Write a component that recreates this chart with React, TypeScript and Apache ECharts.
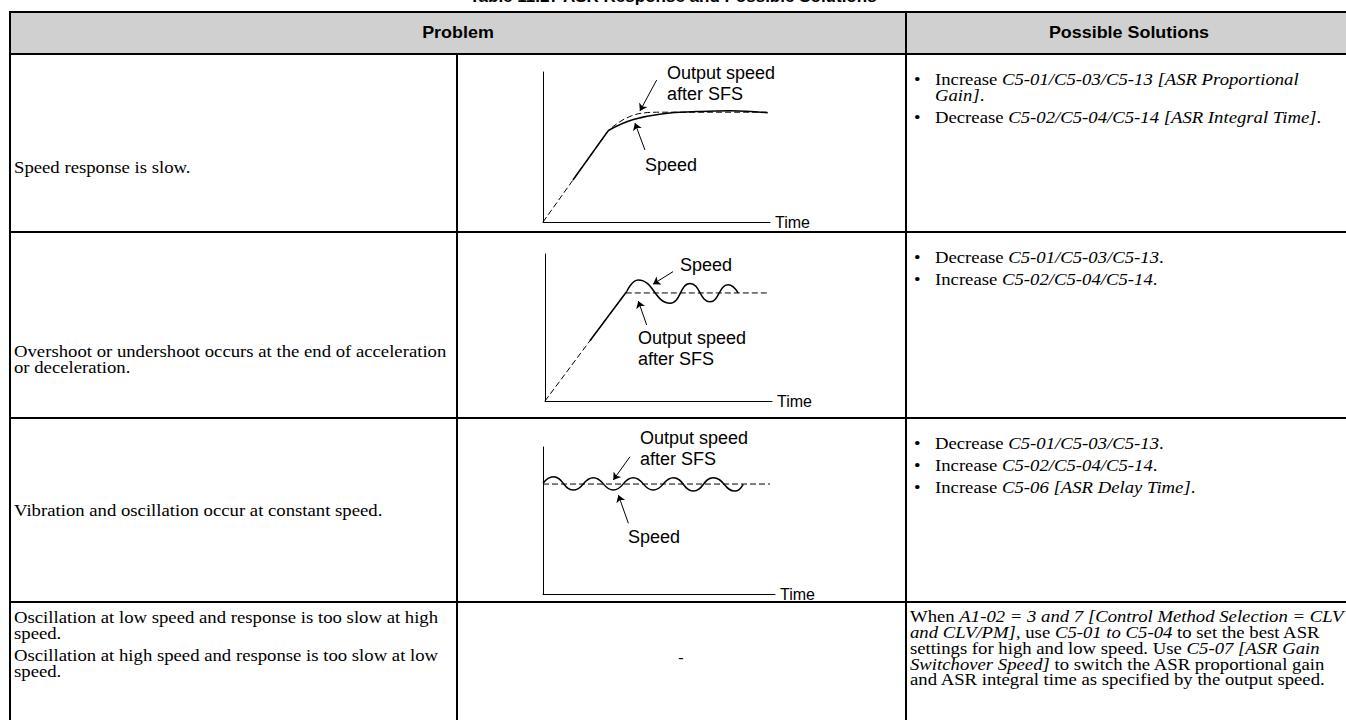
import React, { useEffect, useRef } from 'react';
import * as echarts from 'echarts';

// ---------- texts ----------
const titleText = 'Table 11.27 ASR Response and Possible Solutions';
const headerLabels = ['Problem', 'Possible Solutions'];
const problemTexts = [
  ['Speed response is slow.'],
  ['Overshoot or undershoot occurs at the end of acceleration\nor deceleration.'],
  ['Vibration and oscillation occur at constant speed.'],
  [
    'Oscillation at low speed and response is too slow at high\nspeed.',
    'Oscillation at high speed and response is too slow at low\nspeed.',
  ],
];
const solutionBullets = [
  [
    '{n|Increase }{i|C5-01/C5-03/C5-13 [ASR Proportional}\n{i|Gain]}{n|.}',
    '{n|Decrease }{i|C5-02/C5-04/C5-14 [ASR Integral Time]}{n|.}',
  ],
  ['{n|Decrease }{i|C5-01/C5-03/C5-13}{n|.}', '{n|Increase }{i|C5-02/C5-04/C5-14}{n|.}'],
  [
    '{n|Decrease }{i|C5-01/C5-03/C5-13}{n|.}',
    '{n|Increase }{i|C5-02/C5-04/C5-14}{n|.}',
    '{n|Increase }{i|C5-06 [ASR Delay Time]}{n|.}',
  ],
];
const lastSolution =
  '{n|When }{i|A1-02 = 3 and 7 [Control Method Selection = CLV}\n' +
  '{i|and CLV/PM]}{n|, use }{i|C5-01 to C5-04}{n| to set the best ASR}\n' +
  '{n|settings for high and low speed. Use }{i|C5-07 [ASR Gain}\n' +
  '{i|Switchover Speed]}{n| to switch the ASR proportional gain}\n' +
  '{n|and ASR integral time as specified by the output speed.}';
const noDiagram = '-';
const timeLabel = 'Time';
const outputLabel = 'Output speed\nafter SFS';
const speedLabel = 'Speed';

// ---------- diagram data: [time, speed] on a 0..100 scale ----------
// 1: slow response
const slowRamp = [[13.2, 28], [28.8, 61]];
const slowCurve = [[28.8, 61], [39.8, 68.3], [53, 72.2], [67.7, 73.6], [82.4, 74.2], [99, 72.8]];
const slowRef = [[0, 0], [28.8, 61], [31, 63.8], [33.5, 66.5], [36, 68.8], [39, 70.8], [42, 72.2], [46, 73], [50, 73.2], [99, 73.2]];
const slowOutputArrow = [[50.1, 94.7], [42.7, 74]];
const slowSpeedArrow = [[44.9, 48], [40.5, 66]];

// 2: overshoot
const overRamp = [[19.8, 41], [36, 74.5]];
const overCurve = [[36, 74.5], [41.1, 82.3], [55.1, 66.5], [63.9, 80], [72.7, 67.5], [80.7, 79], [85.1, 73.5]];
const overRef = [[0, 0], [35.5, 73.5], [97.9, 73.5]];
const overSpeedArrow = [[56.4, 88], [47.6, 79.5]];
const overOutputArrow = [[44.8, 51.7], [41.1, 68]];

// 3: vibration
const vibCurve = [[0, 75.3], [4.4, 79.8], [13.1, 70.7], [21.7, 79.1], [30.3, 70.7], [38.9, 79.1], [47.5, 70.7], [56.2, 79.1], [64.8, 70], [73.4, 79.1], [82.8, 70], [86.3, 74.6]];
const vibRef = [[0, 74.8], [97.8, 74.8]];
const vibOutputArrow = [[37.5, 93.4], [30.3, 77.6]];
const vibSpeedArrow = [[36.8, 48.1], [32.5, 67.3]];

// ---------- styling ----------
const SANS = '"Liberation Sans", Arial, sans-serif';
const SERIF = '"Liberation Serif", "Times New Roman", serif';
const BLACK = '#000';

function buildOption() {
  const H = 720;
  const L = 10;
  const T = 12;
  const HB = 54;
  const rowLines = [232, 418, 602];
  const cDiv = 457;
  const sDiv = 906;
  const RIGHT = 1360;
  const TXT = 16;
  const LH = 16;
  const SX = 1.17;

  const grids = [
    { left: 543, top: 72, width: 227, height: 150 },
    { left: 545, top: 254, width: 227, height: 147 },
    { left: 543, top: 447, width: 232, height: 147 },
  ];

  const xAxes = grids.map((_, i) => ({
    type: 'value',
    gridIndex: i,
    min: 0,
    max: 100,
    axisLine: { show: true, onZero: false, lineStyle: { color: BLACK, width: 1 } },
    axisTick: { show: false },
    axisLabel: { show: false },
    splitLine: { show: false },
    name: timeLabel,
    nameLocation: 'end',
    nameGap: 5,
    nameTextStyle: { fontFamily: SANS, fontSize: 16, color: BLACK },
  }));
  const yAxes = grids.map((_, i) => ({
    type: 'value',
    gridIndex: i,
    min: 0,
    max: 100,
    axisLine: { show: true, onZero: false, lineStyle: { color: BLACK, width: 1 } },
    axisTick: { show: false },
    axisLabel: { show: false },
    splitLine: { show: false },
  }));

  const arrowLine = (arrows: number[][][]) => ({
    silent: true,
    symbol: ['none', 'arrow'],
    symbolSize: 7,
    label: { show: false },
    lineStyle: { color: BLACK, width: 1, type: 'solid' },
    emphasis: { disabled: true },
    data: arrows.map((a) => [{ coord: a[0] }, { coord: a[1] }]),
  });

  const ln = (i: number, data: number[][], smooth: number | boolean, lineStyle: any, extra: any = {}) => ({
    type: 'line',
    xAxisIndex: i,
    yAxisIndex: i,
    data,
    symbol: 'none',
    smooth,
    lineStyle: { color: BLACK, ...lineStyle },
    silent: true,
    ...extra,
  });
  const dashed = { width: 1, type: [6, 3] };
  const solid = { width: 1.5 };

  const series = [
    ln(0, slowRef, false, dashed),
    ln(0, slowRamp, false, solid),
    ln(0, slowCurve, 0.45, solid, { markLine: arrowLine([slowOutputArrow, slowSpeedArrow]) }),
    ln(1, overRef, false, dashed),
    ln(1, overRamp, false, solid),
    ln(1, overCurve, 0.5, solid, { markLine: arrowLine([overSpeedArrow, overOutputArrow]) }),
    ln(2, vibRef, false, dashed),
    ln(2, vibCurve, 0.5, solid, { markLine: arrowLine([vibOutputArrow, vibSpeedArrow]) }),
  ];

  const g: any[] = [];
  const line = (x1: number, y1: number, x2: number, y2: number, w = 2) =>
    g.push({ type: 'line', shape: { x1, y1, x2, y2 }, style: { stroke: BLACK, lineWidth: w }, z: 10 });
  const rich = {
    n: { fontFamily: SERIF, fontSize: TXT, fill: BLACK, lineHeight: LH },
    i: { fontFamily: SERIF, fontSize: TXT, fontStyle: 'italic', fill: BLACK, lineHeight: LH },
  };
  const text = (x: number, y: number, t: string, extra: any = {}) =>
    g.push({
      type: 'text',
      x,
      y,
      scaleX: SX,
      z: 10,
      style: {
        text: t,
        fontFamily: SERIF,
        fontSize: TXT,
        fill: BLACK,
        lineHeight: LH,
        align: 'left',
        verticalAlign: 'top',
        ...extra,
      },
    });

  // header background
  g.push({ type: 'rect', shape: { x: L, y: T, width: RIGHT - L, height: HB - T }, style: { fill: '#d0d0d0' }, z: 1 });
  // title (cut off at the top of the page, as in the source)
  g.push({
    type: 'text',
    x: 673,
    y: 5,
    z: 10,
    style: { text: titleText, fontFamily: SANS, fontWeight: 'bold', fontSize: 17, fill: BLACK, align: 'center', verticalAlign: 'bottom' },
  });
  // borders
  line(L, T, RIGHT, T);
  line(L, T - 1, L, H);
  line(L, HB, RIGHT, HB);
  rowLines.forEach((y) => line(L, y, RIGHT, y));
  line(sDiv, T, sDiv, H);
  line(cDiv, HB, cDiv, H);

  // header labels
  const head = (x: number, t: string) =>
    g.push({ type: 'text', x, y: 33, scaleX: 1.12, z: 10, style: { text: t, fontFamily: SANS, fontWeight: 'bold', fontSize: 16, fill: BLACK, align: 'center', verticalAlign: 'middle' } });
  head((L + sDiv) / 2, headerLabels[0]);
  head(1129, headerLabels[1]);

  // problem texts
  const PX = 14;
  text(PX, 167, problemTexts[0][0], { verticalAlign: 'middle' });
  text(PX, 343, problemTexts[1][0]);
  text(PX, 510, problemTexts[2][0], { verticalAlign: 'middle' });
  text(PX, 609, problemTexts[3][0]);
  text(PX, 647, problemTexts[3][1]);

  // solutions
  const BX = 914;
  const TX = 935;
  const bulletTops = [
    [71, 109],
    [249, 271],
    [435, 457, 479],
  ];
  solutionBullets.forEach((items, r) => {
    items.forEach((s, k) => {
      const y = bulletTops[r][k];
      text(BX, y, '•');
      text(TX, y, s, { rich });
    });
  });
  text(910, 608, lastSolution, { rich });

  // no-diagram dash
  g.push({ type: 'text', x: 681, y: 657, z: 10, style: { text: noDiagram, fontFamily: SERIF, fontSize: TXT, fill: BLACK, align: 'center', verticalAlign: 'middle' } });

  // diagram labels
  const lab = (x: number, y: number, t: string, va = 'middle') =>
    g.push({ type: 'text', x, y, z: 10, style: { text: t, fontFamily: SANS, fontSize: 18, fill: BLACK, lineHeight: 21.5, align: 'left', verticalAlign: va } });
  lab(667, 62, outputLabel, 'top');
  lab(645, 165, speedLabel);
  lab(680, 265, speedLabel);
  lab(638, 327, outputLabel, 'top');
  lab(640, 427, outputLabel, 'top');
  lab(628, 537, speedLabel);

  return {
    animation: false,
    backgroundColor: '#fff',
    grid: grids,
    xAxis: xAxes,
    yAxis: yAxes,
    series,
    graphic: g,
  };
}

export default function App() {
  const ref = useRef<HTMLDivElement>(null);
  useEffect(() => {
    document.body.style.margin = '0';
    const chart = echarts.init(ref.current as HTMLDivElement, null, { renderer: 'svg' });
    chart.setOption(buildOption() as any);
    return () => chart.dispose();
  }, []);
  return <div ref={ref} style={{ width: 1346, height: 720 }} />;
}
